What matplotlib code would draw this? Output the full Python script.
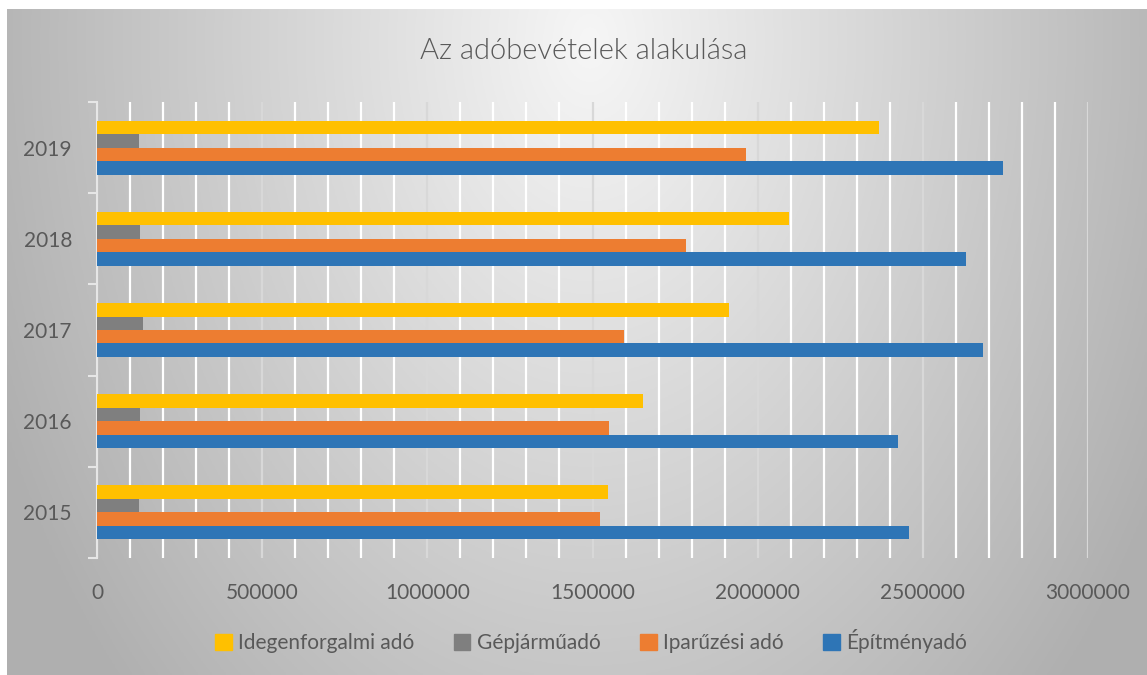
import numpy as np
import matplotlib
matplotlib.use("Agg")
import matplotlib.pyplot as plt
from matplotlib.ticker import MultipleLocator
from matplotlib.patches import Patch

plt.rcParams['font.family'] = ['Lato', 'DejaVu Sans']

# data
years = ['2015', '2016', '2017', '2018', '2019']
epitmeny = [2458000, 2425000, 2681000, 2632000, 2744000]
iparuzesi = [1522000, 1549000, 1595000, 1783000, 1964000]
gepjarmu = [128000, 129000, 140000, 131000, 128000]
idegenforgalmi = [1546000, 1653000, 1914000, 2094000, 2367000]

series = [
    ('Építményadó', epitmeny, '#2e75b6'),
    ('Iparűzési adó', iparuzesi, '#ed7d31'),
    ('Gépjárműadó', gepjarmu, '#7f7f7f'),
    ('Idegenforgalmi adó', idegenforgalmi, '#ffc000'),
]
txt = '#595959'

W, H = 1147, 675
fig = plt.figure(figsize=(W / 100, H / 100), dpi=100, facecolor='white')

# gradient background of the chart area
bg = fig.add_axes([7 / W, 0, 1 - 7 / W, 1 - 9 / H])
bg.set_axis_off()
xx, yy = np.meshgrid(np.linspace(7, W, 400), np.linspace(9, H, 240))
d = np.sqrt(((xx - 590) / 620) ** 2 + ((yy - 40) / 900) ** 2)
shade = np.clip(0.965 - 0.265 * d, 0.69, 1)
bg.imshow(np.dstack([shade] * 3), aspect='auto', extent=[0, 1, 0, 1])
bg.set_xlim(0, 1)
bg.set_ylim(0, 1)

x0, x1, y0, y1 = 97, 1088, 102, 558
ax = fig.add_axes([x0 / W, 1 - y1 / H, (x1 - x0) / W, (y1 - y0) / H])
ax.patch.set_alpha(0)

y = np.arange(len(years))
h = 0.148
for i, (name, vals, col) in enumerate(series):
    ax.barh(y + (i - 1.5) * h, vals, height=h, color=col, label=name, zorder=3)

ax.set_xlim(0, 3000000)
ax.set_ylim(-0.5, len(years) - 0.5)
ax.xaxis.set_major_locator(MultipleLocator(500000))
ax.xaxis.set_minor_locator(MultipleLocator(100000))
ax.grid(axis='x', which='minor', color='white', lw=1.6, zorder=1)
ax.grid(axis='x', which='major', color='#d8d8d8', lw=1.6, zorder=2)
ax.set_xticklabels([str(int(v)) for v in ax.get_xticks()])
ax.tick_params(axis='x', which='both', length=0, pad=18, labelsize=15, labelcolor=txt)

ax.set_yticks(y)
ax.set_yticklabels(years)
ax.set_yticks(np.arange(-0.5, len(years)), minor=True)
ax.tick_params(axis='y', which='major', length=0, pad=18, labelsize=15, labelcolor=txt)
ax.tick_params(axis='y', which='minor', length=6.5, width=1.5, color='#e6e6e6')
for s in ['top', 'right', 'bottom']:
    ax.spines[s].set_visible(False)
ax.spines['left'].set_color('#e6e6e6')
ax.spines['left'].set_linewidth(1.5)

fig.text(584 / W, 1 - 51 / H, 'Az adóbevételek alakulása', ha='center', va='center',
         fontsize=21, color=txt, fontweight=300)

handles = [Patch(color=c, label=n) for n, v, c in series[::-1]]
fig.legend(handles=handles, loc='center', bbox_to_anchor=(591 / W, 1 - 641 / H), ncol=4,
           frameon=False, fontsize=15, handlelength=0.8, handleheight=0.8,
           handletextpad=0.3, columnspacing=1.9, labelcolor=txt)

fig.savefig('out.png', dpi=100, facecolor='white')
